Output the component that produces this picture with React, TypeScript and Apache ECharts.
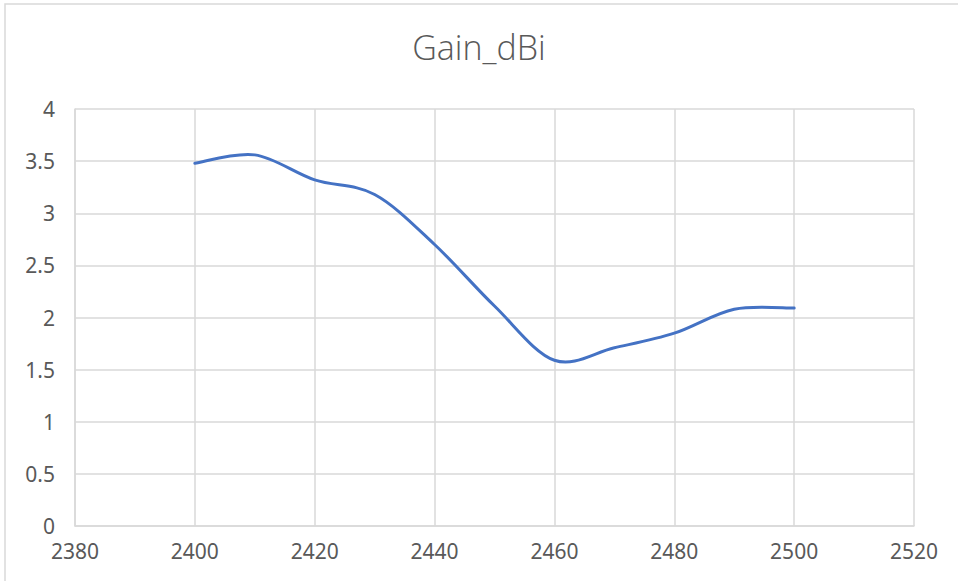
import React, { useEffect, useRef } from "react";
import * as echarts from "echarts";

const frequencies = [2400, 2410, 2420, 2430, 2440, 2450, 2460, 2470, 2480, 2490, 2500];
const gains = [3.48, 3.56, 3.32, 3.18, 2.7, 2.11, 1.59, 1.71, 1.85, 2.08, 2.09];
const chartTitle = "Gain_dBi";

export default function App() {
  const ref = useRef<HTMLDivElement>(null);
  useEffect(() => {
    document.body.style.margin = "0";
    const chart = echarts.init(ref.current!, null, { renderer: "svg" });
    const data = frequencies.map((f, i) => [f, gains[i]]);
    const renderItem = (params: any, api: any) => {
      if (params.dataIndex !== 0) return null;
      const pts = data.map((d) => api.coord(d));
      const n = pts.length;
      let d = `M${pts[0][0]},${pts[0][1]}`;
      for (let i = 0; i < n - 1; i++) {
        const p0 = pts[Math.max(i - 1, 0)];
        const p1 = pts[i];
        const p2 = pts[i + 1];
        const p3 = pts[Math.min(i + 2, n - 1)];
        const c1x = p1[0] + (p2[0] - p0[0]) / 6;
        const c1y = p1[1] + (p2[1] - p0[1]) / 6;
        const c2x = p2[0] - (p3[0] - p1[0]) / 6;
        const c2y = p2[1] - (p3[1] - p1[1]) / 6;
        d += ` C${c1x},${c1y} ${c2x},${c2y} ${p2[0]},${p2[1]}`;
      }
      return {
        type: "path",
        shape: { pathData: d },
        style: { fill: "none", stroke: "#4472C4", lineWidth: 3, lineCap: "round", lineJoin: "round" },
      };
    };
    const labelStyle = { color: "#595959", fontSize: 21, fontFamily: "Noto Sans" };
    chart.setOption({
      animation: false,
      backgroundColor: "#ffffff",
      title: {
        text: chartTitle,
        left: "center",
        top: 25,
        textStyle: { fontSize: 34, fontWeight: 300, color: "#595959", fontFamily: "Open Sans" },
      },
      graphic: [
        {
          type: "rect",
          shape: { x: 5, y: 4, width: 1200, height: 1200 },
          style: { fill: "none", stroke: "#d9d9d9", lineWidth: 1.5 },
          silent: true,
        },
      ],
      grid: { left: 75, top: 109, right: 44, bottom: 55 },
      xAxis: {
        type: "value",
        min: 2380,
        max: 2520,
        interval: 20,
        axisLine: { show: true, lineStyle: { color: "#d9d9d9", width: 1.5 } },
        axisTick: { show: false },
        splitLine: { show: true, lineStyle: { color: "#d9d9d9", width: 1.5 } },
        axisLabel: { ...labelStyle, margin: 14, formatter: (v: number) => String(v) },
      },
      yAxis: {
        type: "value",
        min: 0,
        max: 4,
        interval: 0.5,
        axisLine: { show: true, lineStyle: { color: "#d9d9d9", width: 1.5 } },
        axisTick: { show: false },
        splitLine: { show: true, lineStyle: { color: "#d9d9d9", width: 1.5 } },
        axisLabel: { ...labelStyle, margin: 20, formatter: (v: number) => String(v) },
      },
      series: [
        {
          type: "custom",
          data,
          encode: { x: 0, y: 1 },
          renderItem,
        },
      ],
    });
    return () => chart.dispose();
  }, []);
  return (
    <div
      ref={ref}
      style={{ position: "absolute", left: 0, top: 0, width: 958, height: 581 }}
    />
  );
}
